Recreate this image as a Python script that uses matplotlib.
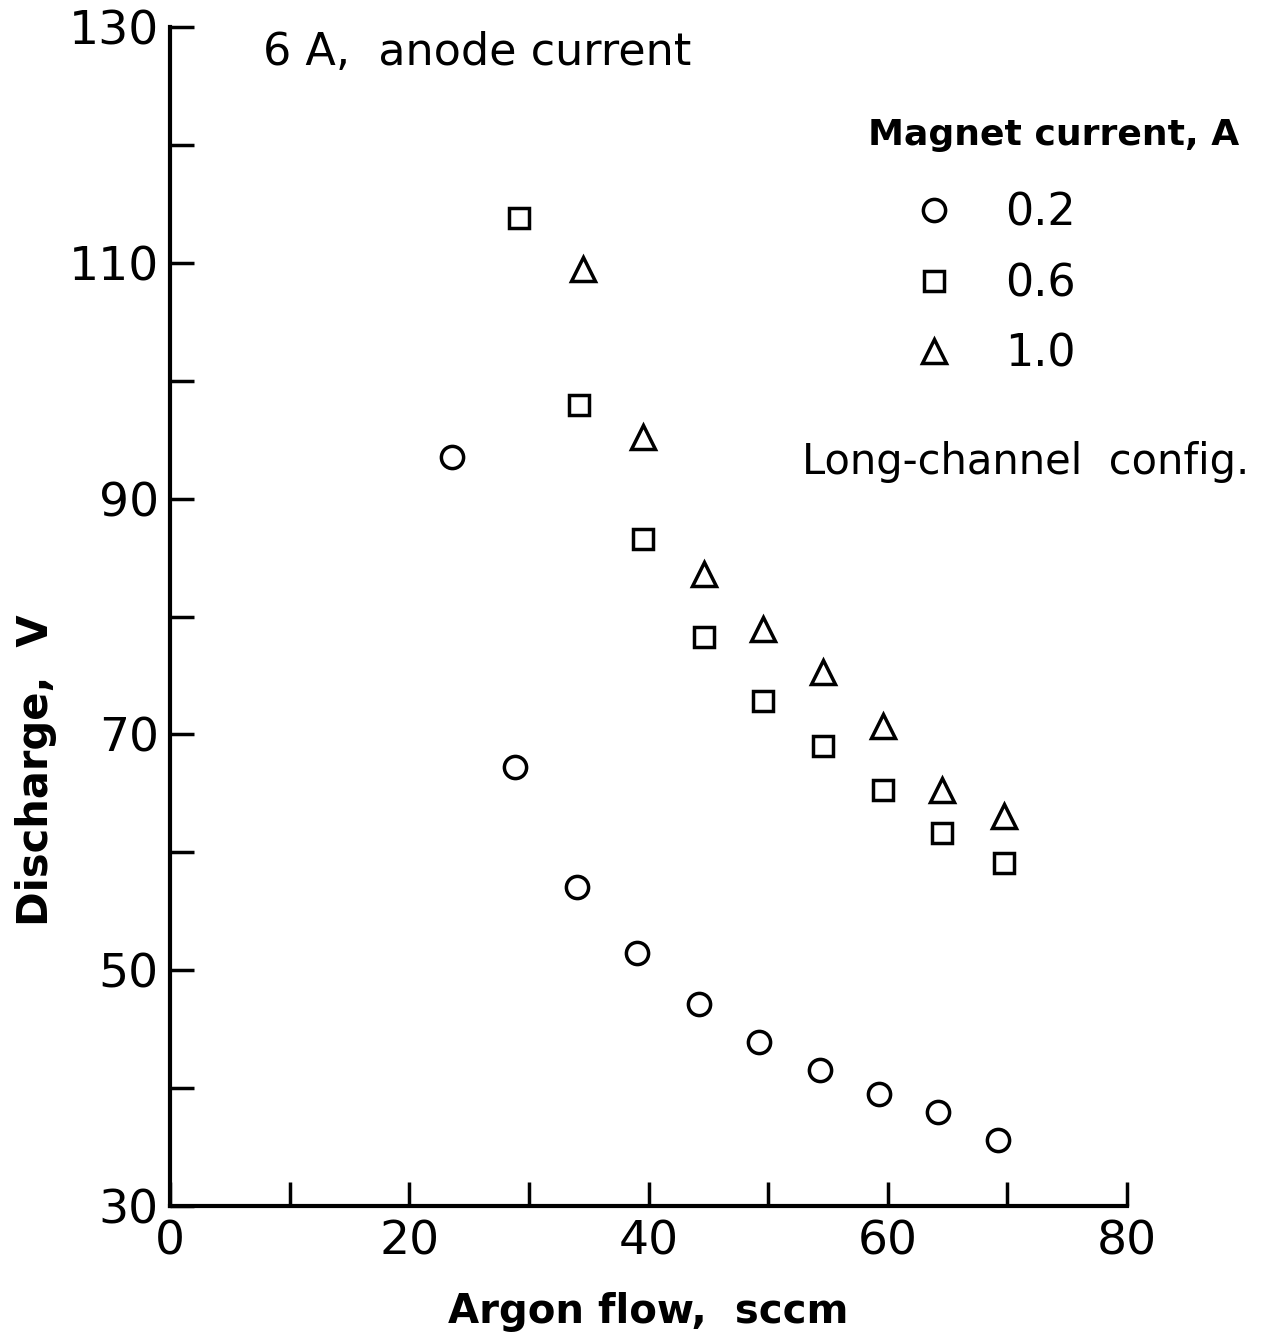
import numpy as np
import matplotlib.pyplot as plt

plt.rcParams['font.family'] = 'DejaVu Sans'

# argon flow (sccm) and discharge voltage (V) per magnet current
flow_02 = [23.6, 28.8, 34.0, 39.0, 44.2, 49.2, 54.3, 59.3, 64.2, 69.2]
volt_02 = [93.5, 67.2, 57.1, 51.5, 47.1, 43.9, 41.5, 39.5, 38.0, 35.6]

flow_06 = [29.2, 34.2, 39.5, 44.6, 49.6, 54.6, 59.6, 64.5, 69.7]
volt_06 = [113.8, 97.9, 86.6, 78.3, 72.8, 69.0, 65.3, 61.6, 59.1]

flow_10 = [34.5, 39.5, 44.6, 49.6, 54.6, 59.6, 64.5, 69.7]
volt_10 = [109.5, 95.2, 83.6, 78.9, 75.3, 70.7, 65.3, 63.1]

fig = plt.figure(figsize=(12.65, 13.42), dpi=100)
ax = fig.add_axes([0.1344, 0.1013, 0.7565, 0.8786])

kw = dict(ls='none', mfc='white', mec='black', mew=2.5, clip_on=False)
ax.plot(flow_02, volt_02, 'o', ms=16, label='0.2', **kw)
ax.plot(flow_06, volt_06, 's', ms=15, label='0.6', **kw)
ax.plot(flow_10, volt_10, '^', ms=17, label='1.0', **kw)

ax.set_xlim(0, 80)
ax.set_ylim(30, 130)
ax.set_xticks([0, 20, 40, 60, 80])
ax.set_xticks([10, 30, 50, 70], minor=True)
ax.set_yticks([30, 50, 70, 90, 110, 130])
ax.set_yticks([40, 60, 80, 100, 120], minor=True)

for s in ['top', 'right']:
    ax.spines[s].set_visible(False)
for s in ['left', 'bottom']:
    ax.spines[s].set_linewidth(3)

ax.tick_params(which='both', direction='in', length=17, width=2.5, labelsize=34, pad=8)
ax.tick_params(axis='x', pad=10)

ax.set_xlabel('Argon flow,  sccm', fontsize=29, fontweight='bold')
ax.xaxis.set_label_coords(0.5, -0.073)
ax.set_ylabel('Discharge,  V', fontsize=30, fontweight='bold')
ax.yaxis.set_label_coords(-0.118, 0.37)

ax.text(0.097, 0.997, '6 A,  anode current', transform=ax.transAxes, fontsize=32,
        va='top', ha='left')
ax.text(1.128, 0.631, 'Long-channel  config.', transform=ax.transAxes, fontsize=30,
        va='center', ha='right')
fig.text(0.98, 1 - 135 / 1342, 'Magnet current, A', fontsize=26, fontweight='bold',
         ha='right', va='center')

leg = ax.legend(loc='upper left', bbox_to_anchor=(0.689, 0.887), bbox_transform=fig.transFigure,
                frameon=False, fontsize=32, handlelength=1.0,
                handletextpad=1.1, labelspacing=0.62)

fig.savefig('out.png', dpi=100)
